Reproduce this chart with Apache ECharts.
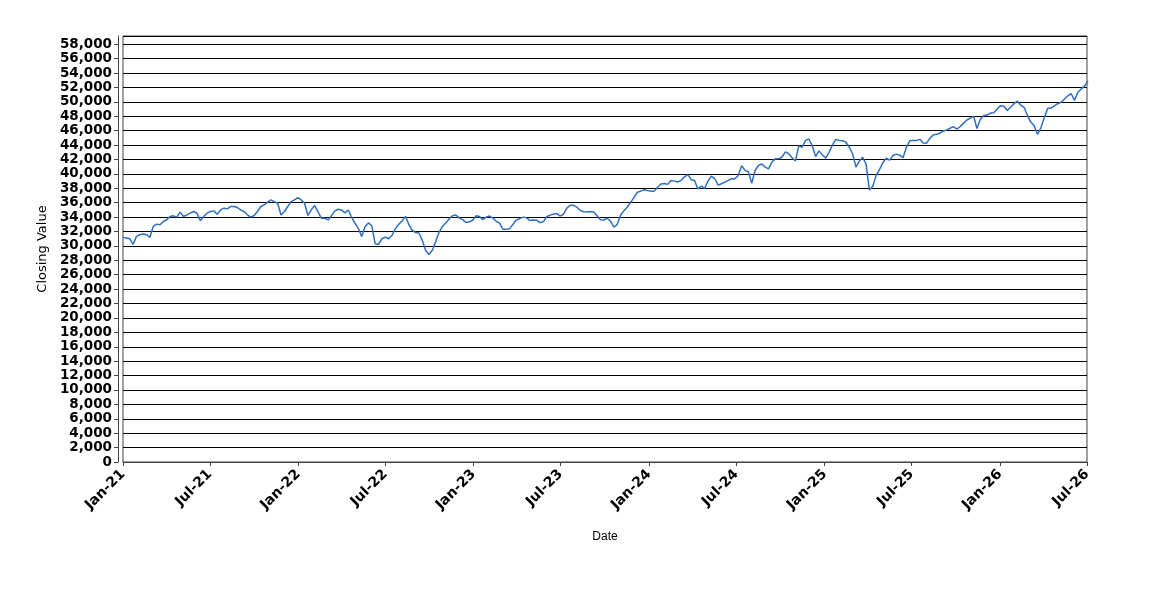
<!DOCTYPE html>
<html lang="en">
<head>
    <meta charset="UTF-8">
    <script type="text/javascript" src="https://cdn.jsdelivr.net/npm/echarts@6.0.0/dist/echarts.min.js"></script>
    <style>
        html, body { margin: 0; padding: 0; background: #fff; }
    </style>
</head>
<body>
    <div id="closingChart" style="width: 1150px;height: 600px;"></div>
</body>

<script>
    // weekly closes, first week starts 2021-01-01
    var startYear = 2021, startMonth = 0, startDay = 1;
    var weeklyClose = [
        31190, 31100, 31010, 30200, 31330, 31560, 31650, 31560, 31200, 32710,
        33030, 32940, 33400, 33630, 34090, 34180, 34000, 34700, 34090, 34320,
        34550, 34780, 34550, 33500, 34090, 34550, 34780, 34870, 34410, 35010,
        35240, 35150, 35470, 35470, 35330, 35010, 34780, 34320, 34000, 34230,
        34780, 35470, 35700, 36070, 36390, 36160, 35930, 34300, 34780, 35470,
        36160, 36390, 36710, 36390, 35930, 34230, 35010, 35610,
        34750, 33840, 33840, 33610, 34200, 34870, 35100, 35000, 34600, 34990,
        33950, 33150, 32400, 31310, 32700, 33200, 32800, 30300, 30200, 31000,
        31200, 31000, 31450, 32400, 33000, 33450, 34100, 33000, 32200, 31850,
        31800, 30800, 29400, 28800, 29400, 30600, 31900, 32700, 33200, 33750,
        34200, 34300, 33900, 33650, 33250, 33350, 33560, 34200, 34100, 33650,
        34000, 34150, 33870, 33420, 33180, 32300,
        32300, 32400, 33000, 33600, 33800, 34000, 33900, 33550, 33600, 33580,
        33250, 33350, 34050, 34280, 34400, 34500, 34150, 34400, 35250, 35650,
        35640, 35400, 34900, 34750, 34700, 34780, 34700, 34200, 33640, 33600,
        33850, 33450, 32600, 33000, 34300, 34900, 35400, 36050, 36750, 37450,
        37610, 37800, 37700, 37610, 37610, 38150, 38600, 38670, 38550, 39100,
        39000, 38880, 39100, 39600, 39900, 39200,
        39100, 37900, 38300, 38000, 39000, 39700, 39330, 38450, 38640, 38870,
        39100, 39330, 39330, 39790, 41150, 40500, 40300, 38700, 40480, 41170,
        41380, 40940, 40700, 41650, 42090, 42090, 42350, 43050, 42800, 42250,
        41800, 43900, 43700, 44650, 44850, 43900, 42400, 43200, 42650, 42200,
        43000, 44000, 44800, 44650, 44620, 44400, 43700, 42800, 40940, 41800,
        42300, 41400, 37750, 38300, 39800, 40600, 41550,
        42200, 41900, 42550, 42750, 42600, 42250, 43700, 44600, 44650, 44650,
        44800, 44300, 44270, 44960, 45420, 45510, 45650, 45970, 46110, 46340,
        46570, 46200, 46570, 47050, 47490, 47750, 48000, 46300, 47600, 48100,
        48180, 48450, 48500, 49000, 49480, 49400, 48800, 49250, 49750, 50100,
        49560, 49250, 48100, 47200, 46700, 45500, 46400, 47800, 49100, 49150,
        49450, 49750, 49950, 50400, 50850, 51150, 50200, 51350, 51800, 52200,
        52900
    ];
    // tick labels: every half year
    var tickYears = [2021, 2021, 2022, 2022, 2023, 2023, 2024, 2024, 2025, 2025, 2026, 2026];
    var tickMonths = [0, 6, 0, 6, 0, 6, 0, 6, 0, 6, 0, 6];
    var monthNames = ["Jan", "Feb", "Mar", "Apr", "May", "Jun", "Jul", "Aug", "Sep", "Oct", "Nov", "Dec"];

    var seriesData = [];
    for (var i = 0; i < weeklyClose.length; i++) {
        seriesData.push([new Date(startYear, startMonth, startDay + 7 * i).getTime(), weeklyClose[i]]);
    }
    var tickValues = [];
    for (var j = 0; j < tickYears.length; j++) {
        tickValues.push(new Date(tickYears[j], tickMonths[j], 1).getTime());
    }

    var chart = echarts.init(document.getElementById("closingChart"));
    chart.setOption({
        animation: false,
        backgroundColor: "#fff",
        grid: {
            left: 123, right: 63, top: 36, bottom: 138,
            show: true, borderColor: "#444", borderWidth: 1, backgroundColor: "#fff"
        },
        xAxis: {
            // timestamps on a value axis, labelled as dates
            type: "value",
            min: tickValues[0],
            max: tickValues[tickValues.length - 1],
            offset: 5,
            name: "Date",
            nameLocation: "middle",
            nameGap: 64,
            nameTextStyle: { fontFamily: "Liberation Sans", fontSize: 12, color: "#000" },
            axisLine: { show: true, lineStyle: { color: "#444", width: 1 } },
            axisTick: { show: true, length: 4, lineStyle: { color: "#444" }, customValues: tickValues },
            splitLine: { show: false },
            axisLabel: {
                customValues: tickValues,
                rotate: 45,
                margin: 5,
                fontFamily: "DejaVu Sans",
                fontSize: 14,
                fontWeight: "bold",
                color: "#000",
                formatter: function (v) {
                    var d = new Date(v);
                    return monthNames[d.getMonth()] + "-" + String(d.getFullYear()).slice(2);
                }
            }
        },
        yAxis: {
            type: "value",
            min: 0,
            max: 59150,
            interval: 2000,
            offset: 5,
            name: "Closing Value",
            nameLocation: "middle",
            nameGap: 63,
            nameTextStyle: { fontFamily: "DejaVu Sans", fontSize: 13, color: "#000" },
            axisLine: { show: true, lineStyle: { color: "#444", width: 1 } },
            axisTick: { show: true, length: 4, lineStyle: { color: "#444" } },
            splitLine: { show: true, lineStyle: { color: "#000", width: 1 } },
            axisLabel: {
                showMaxLabel: false,
                margin: 6,
                fontFamily: "DejaVu Sans",
                fontSize: 13.5,
                fontWeight: "bold",
                color: "#000",
                formatter: function (v) { return v.toLocaleString("en-US"); }
            }
        },
        series: [{
            type: "line",
            data: seriesData,
            showSymbol: false,
            symbol: "none",
            lineStyle: { color: "#2f6fbf", width: 1.5 }
        }]
    });
</script>
</html>
